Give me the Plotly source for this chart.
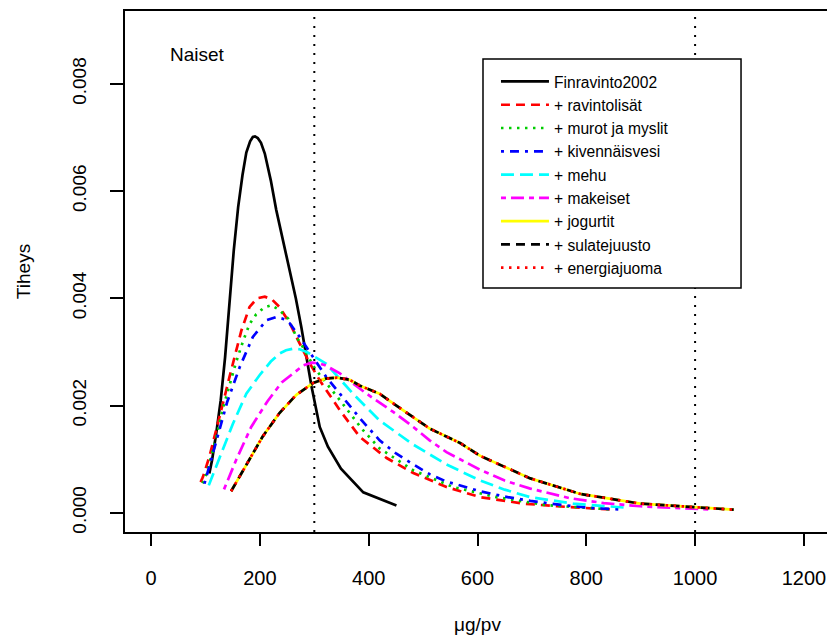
import plotly.graph_objects as go

# ---------------- data ----------------
fin_x = [107, 112, 120, 128, 136, 144, 152, 160, 168, 175, 182, 187, 191, 196, 202, 209, 220, 230, 242, 255, 266, 276, 288, 295, 310, 325, 349, 390, 451]
fin_y = [0.00073, 0.00098, 0.00150, 0.00210, 0.00290, 0.00390, 0.00490, 0.00570, 0.00630, 0.00672, 0.00693, 0.00701, 0.00702, 0.00699, 0.00690, 0.00670, 0.00620, 0.00565, 0.00510, 0.00453, 0.00400, 0.00347, 0.00272, 0.00235, 0.00160, 0.00123, 0.00082, 0.00038, 0.000136]

rav_x = [91, 95, 107, 123, 138, 144, 153, 166, 181, 195, 209, 222, 236, 255, 273, 292, 310, 325, 347, 384, 433, 482, 543, 605, 684, 746, 800, 845]
rav_y = [0.00057, 0.00066, 0.00104, 0.00166, 0.00228, 0.00253, 0.00290, 0.00340, 0.00384, 0.00400, 0.00403, 0.00398, 0.00384, 0.00353, 0.00316, 0.00278, 0.00247, 0.00225, 0.00191, 0.00141, 0.00102, 0.00074, 0.00048, 0.00029, 0.00017, 0.00012, 0.00008, 0.00006]

mur_x = [94, 98, 107, 120, 132, 144, 156, 169, 181, 193, 208, 221, 236, 252, 267, 279, 301, 347, 387, 420, 439, 482, 555, 635, 727, 800, 848]
mur_y = [0.00055, 0.00060, 0.00092, 0.00141, 0.00195, 0.00240, 0.00280, 0.00320, 0.00352, 0.00370, 0.00383, 0.00387, 0.00378, 0.00362, 0.00328, 0.00309, 0.00269, 0.00210, 0.00157, 0.00120, 0.00107, 0.00079, 0.00048, 0.00029, 0.00014, 0.00009, 0.00006]

kiv_x = [98, 110, 124, 140, 163, 187, 212, 230, 242, 255, 273, 298, 322, 347, 384, 420, 451, 482, 512, 543, 605, 650, 697, 758, 807, 865]
kiv_y = [0.00054, 0.00098, 0.00152, 0.00207, 0.00272, 0.00328, 0.00359, 0.00365, 0.00362, 0.00353, 0.00328, 0.00291, 0.00253, 0.00222, 0.00176, 0.00135, 0.00110, 0.00090, 0.00072, 0.00058, 0.00040, 0.00030, 0.00022, 0.00014, 0.00009, 0.00006]

meh_x = [106, 126, 150, 175, 199, 220, 236, 248, 261, 273, 286, 322, 371, 420, 482, 543, 605, 650, 697, 776, 838, 877]
meh_y = [0.00051, 0.00104, 0.00165, 0.00222, 0.00256, 0.00282, 0.00297, 0.00303, 0.00306, 0.00305, 0.00300, 0.00278, 0.00222, 0.00172, 0.00127, 0.00090, 0.00060, 0.00043, 0.00029, 0.00017, 0.00012, 0.00009]

mak_x = [134, 157, 184, 214, 240, 265, 280, 295, 308, 320, 347, 396, 445, 482, 512, 543, 605, 650, 697, 770, 832, 899, 960, 1030]
mak_y = [0.000435, 0.00100, 0.00160, 0.00208, 0.00243, 0.00264, 0.00275, 0.00280, 0.00279, 0.00275, 0.00260, 0.00222, 0.00188, 0.00160, 0.00135, 0.00113, 0.00080, 0.00060, 0.00045, 0.00027, 0.00018, 0.00012, 0.00009, 0.00006]

jog_x = [147, 175, 205, 236, 267, 298, 320, 341, 365, 384, 420, 445, 512, 568, 605, 697, 789, 899, 1022, 1071]
jog_y = [0.00040, 0.00088, 0.00142, 0.00186, 0.00220, 0.00242, 0.00250, 0.00252, 0.00248, 0.00237, 0.00222, 0.00204, 0.00157, 0.00130, 0.00106, 0.00064, 0.00035, 0.00017, 0.000086, 0.000056]

sul_x = [147, 175, 205, 236, 267, 298, 320, 341, 365, 384, 420, 445, 512, 568, 605, 697, 789, 899, 1022, 1071]
sul_y = [0.00040, 0.00088, 0.00142, 0.00186, 0.00220, 0.00242, 0.00250, 0.00252, 0.00248, 0.00237, 0.00222, 0.00204, 0.00157, 0.00130, 0.00106, 0.00064, 0.00035, 0.00017, 0.000086, 0.000056]

ene_x = [147, 175, 205, 236, 267, 298, 320, 341, 365, 384, 420, 445, 512, 568, 605, 697, 789, 899, 1022, 1071]
ene_y = [0.00040, 0.00088, 0.00142, 0.00186, 0.00220, 0.00242, 0.00250, 0.00252, 0.00248, 0.00237, 0.00222, 0.00204, 0.00157, 0.00130, 0.00106, 0.00064, 0.00035, 0.00017, 0.000086, 0.000056]

series_names = ["Finravinto2002", "+ ravintolisät", "+ murot ja myslit", "+ kivennäisvesi",
                "+ mehu", "+ makeiset", "+ jogurtit", "+ sulatejuusto", "+ energiajuoma"]
series_x = [fin_x, rav_x, mur_x, kiv_x, meh_x, mak_x, jog_x, sul_x, ene_x]
series_y = [fin_y, rav_y, mur_y, kiv_y, meh_y, mak_y, jog_y, sul_y, ene_y]

x_ticks = [0, 200, 400, 600, 800, 1000, 1200]
y_ticks = [0.000, 0.002, 0.004, 0.006, 0.008]
reference_lines = [300, 1000]
panel_label = "Naiset"
x_title = "μg/pv"
y_title = "Tiheys"

# ---------------- styles ----------------
line_colors = ["#000000", "#FF0000", "#00CD00", "#0000FF", "#00FFFF",
               "#FF00FF", "#FFFF00", "#000000", "#FF0000"]
line_dashes = ["solid", "9px,6px", "2.5px,5.5px", "3px,6px,9px,6px", "13px,6px",
               "5px,5px,13px,5px", "solid", "9px,6px", "2.5px,5.5px"]
FONT = "Liberation Sans, Arial, Helvetica, sans-serif"

fig = go.Figure()
for name, xs, ys, col, dash in zip(series_names, series_x, series_y, line_colors, line_dashes):
    fig.add_trace(go.Scatter(
        x=xs, y=ys, mode="lines", name=name,
        line=dict(color=col, width=2.7, dash=dash, shape="linear"),
    ))

for xv in reference_lines:
    fig.add_shape(type="line", x0=xv, x1=xv, xref="x", y0=0, y1=1, yref="paper",
                  line=dict(color="black", width=2, dash="2px,7px"))

# legend frame (white box with black border, covers the dotted line like in the original)
fig.add_shape(type="rect", xref="paper", yref="paper",
              x0=0.5078, x1=0.8738, y0=0.4683, y1=0.9079,
              fillcolor="white", line=dict(color="black", width=1.5), layer="above")

fig.add_annotation(x=85, y=0.00855, xref="x", yref="y", text=panel_label,
                   showarrow=False, font=dict(size=19, family=FONT, color="black"))

fig.update_layout(
    width=827, height=629,
    margin=dict(l=117, r=5, t=3, b=105, autoexpand=False),
    paper_bgcolor="white", plot_bgcolor="white",
    font=dict(family=FONT, size=19, color="black"),
    showlegend=True,
    legend=dict(
        x=0.5262, y=0.8967, xanchor="left", yanchor="top",
        bgcolor="rgba(0,0,0,0)", borderwidth=0,
        font=dict(size=15.6, family=FONT, color="black"),
        itemwidth=48, tracegroupgap=0,
    ),
    xaxis=dict(
        range=[-48, 1248], tickmode="array", tickvals=x_ticks,
        ticktext=[str(v) for v in x_ticks], automargin=False,
        ticks="outside", ticklen=12, tickwidth=1.5, tickcolor="black",
        ticklabelstandoff=15,
        showline=True, linecolor="black", linewidth=1.5, mirror=True,
        showgrid=False, zeroline=False, tickfont=dict(size=20),
        title=dict(text=x_title, standoff=30, font=dict(size=19)),
    ),
    yaxis=dict(
        range=[-0.00036, 0.00936], tickmode="array", tickvals=y_ticks,
        ticktext=["%.3f" % v for v in y_ticks], tickangle=-90, automargin=False,
        ticks="outside", ticklen=13, tickwidth=1.5, tickcolor="black",
        ticklabelstandoff=17,
        showline=True, linecolor="black", linewidth=1.5, mirror=True,
        showgrid=False, zeroline=False, tickfont=dict(size=19),
        title=dict(text=y_title, standoff=33, font=dict(size=19)),
    ),
)

fig.write_html("out.html")
